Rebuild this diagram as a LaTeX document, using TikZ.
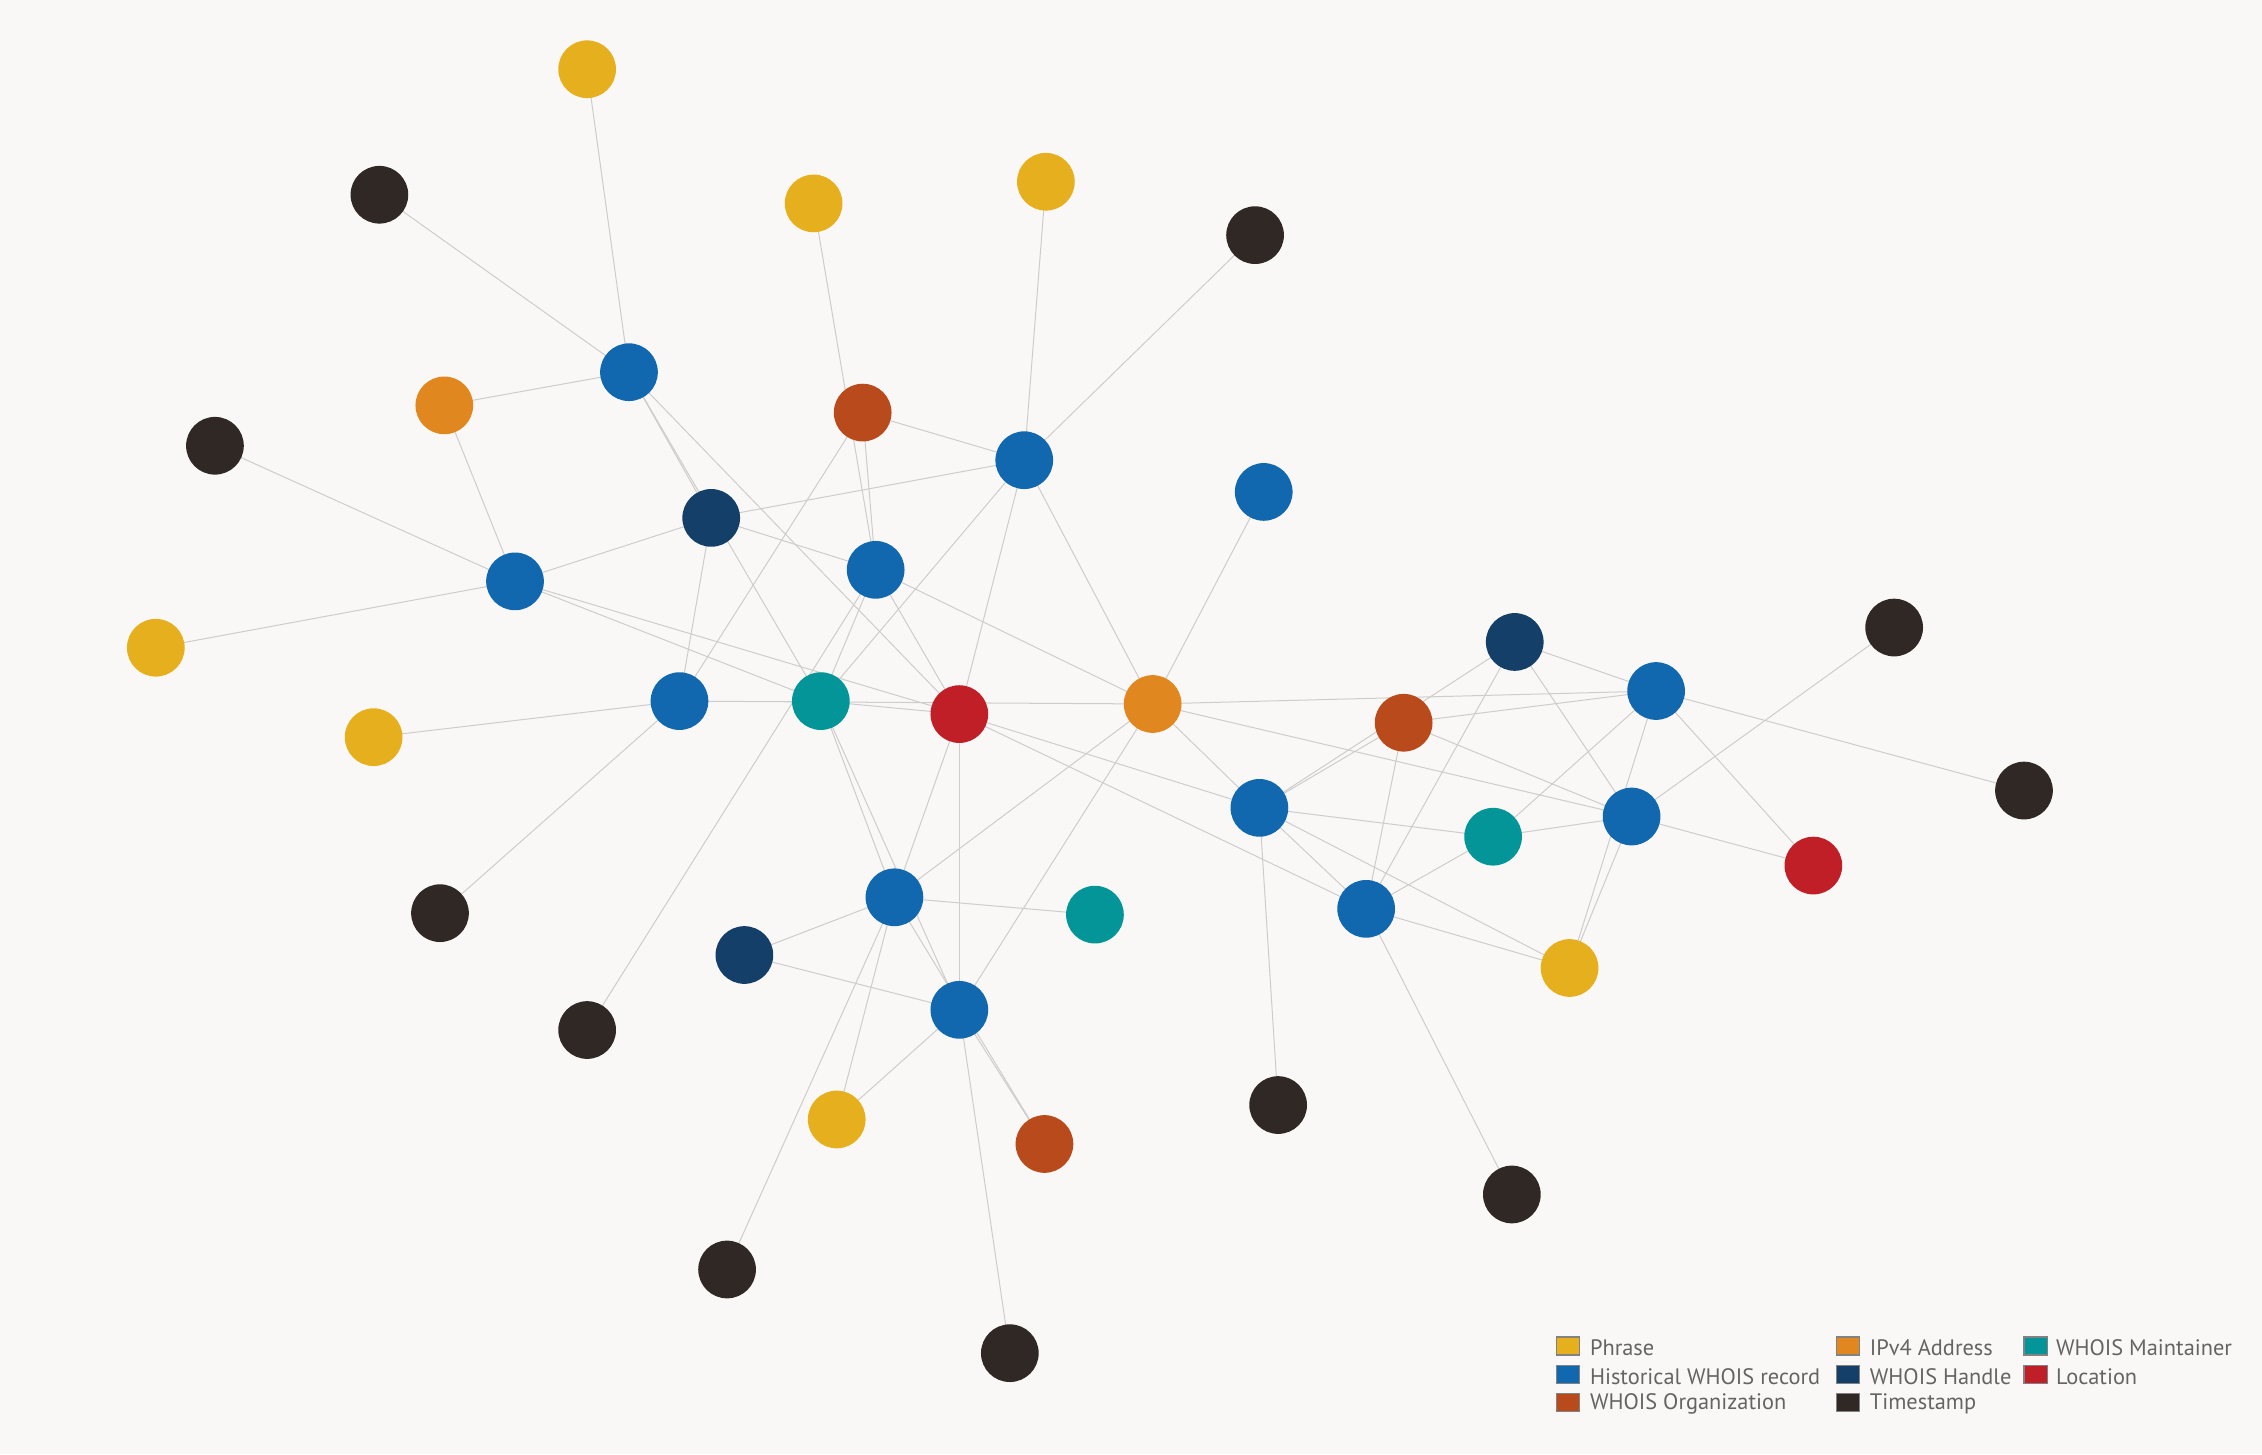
\documentclass[tikz,border=0pt]{standalone}
\usepackage{fontspec}
\setmainfont{PT Sans}
\definecolor{cPaper}{RGB}{249,248,246}
\definecolor{cLink}{RGB}{205,205,205}
\definecolor{cPhr}{RGB}{229,175,30}
\definecolor{cRec}{RGB}{18,104,175}
\definecolor{cOrg}{RGB}{184,74,28}
\definecolor{cIp}{RGB}{224,135,32}
\definecolor{cHdl}{RGB}{19,63,104}
\definecolor{cTs}{RGB}{47,40,37}
\definecolor{cMnt}{RGB}{3,149,151}
\definecolor{cLoc}{RGB}{193,31,40}
\definecolor{cKeyEdge}{RGB}{130,130,130}
\definecolor{cKeyText}{RGB}{100,100,100}
\pgfdeclarelayer{edgelayer}
\pgfsetlayers{edgelayer,main}
\begin{document}
\begin{tikzpicture}[x=1pt,y=-1pt,
  ent/.style={circle,minimum size=40pt,inner sep=0pt,draw=none},
  phr/.style={ent,fill=cPhr},
  rec/.style={ent,fill=cRec},
  org/.style={ent,fill=cOrg},
  ipv/.style={ent,fill=cIp},
  hdl/.style={ent,fill=cHdl},
  tsp/.style={ent,fill=cTs},
  mnt/.style={ent,fill=cMnt},
  loc/.style={ent,fill=cLoc},
  link/.style={draw=cLink,line width=0.7pt},
  keybox/.style={draw=cKeyEdge,line width=0.8pt,minimum width=16pt,minimum height=12.5pt,inner sep=0pt},
  keytext/.style={anchor=west,text=cKeyText,inner sep=0pt,font=\fontsize{15.5}{17}\selectfont}
]
\begin{pgfonlayer}{edgelayer}
\fill[cPaper] (0,0) rectangle (1568,1008);
\end{pgfonlayer}
\useasboundingbox (0,0) rectangle (1568,1008);

% Phrases
\node[phr] (Y1) at (407,48) {};
\node[phr] (Y2) at (564,141) {};
\node[phr] (Y3) at (725,126) {};
\node[phr] (Y4) at (108,449) {};
\node[phr] (Y5) at (259,511) {};
\node[phr] (Y6) at (1088,671) {};
\node[phr] (Y7) at (580,776) {};
% Timestamps
\node[tsp] (K1) at (263,135) {};
\node[tsp] (K2) at (870,163) {};
\node[tsp] (K3) at (149,309) {};
\node[tsp] (K4) at (1313,435) {};
\node[tsp] (K5) at (1403,548) {};
\node[tsp] (K6) at (305,633) {};
\node[tsp] (K7) at (407,714) {};
\node[tsp] (K8) at (886,766) {};
\node[tsp] (K9) at (1048,828) {};
\node[tsp] (K10) at (504,880) {};
\node[tsp] (K11) at (700,938) {};
% Historical WHOIS records
\node[rec] (B1) at (436,258) {};
\node[rec] (B2) at (710,319) {};
\node[rec] (B3) at (876,341) {};
\node[rec] (B4) at (357,403) {};
\node[rec] (B5) at (607,395) {};
\node[rec] (B6) at (471,486) {};
\node[rec] (B7) at (1148,479) {};
\node[rec] (B8) at (873,560) {};
\node[rec] (B9) at (1131,566) {};
\node[rec] (B10) at (620,622) {};
\node[rec] (B11) at (947,630) {};
\node[rec] (B12) at (665,700) {};
% IPv4
\node[ipv] (O1) at (308,281) {};
\node[ipv] (O2) at (799,488) {};
% Organizations
\node[org] (R1) at (598,286) {};
\node[org] (R2) at (973,501) {};
\node[org] (R3) at (724,793) {};
% Handles
\node[hdl] (H1) at (493,359) {};
\node[hdl] (H2) at (1050,445) {};
\node[hdl] (H3) at (516,662) {};
% Maintainers
\node[mnt] (T1) at (569,486) {};
\node[mnt] (T2) at (1035,580) {};
\node[mnt] (T3) at (759,634) {};
% Locations
\node[loc] (L1) at (665,495) {};
\node[loc] (L2) at (1257,600) {};

\begin{pgfonlayer}{edgelayer}
\foreach \a/\b in {Y1/B1,K1/B1,O1/B1,B1/H1,B1/T1,B1/L1,
  O1/B4,K3/B4,Y4/B4,B4/H1,B4/T1,B4/L1,
  Y2/B5,R1/B5,R1/B2,R1/B6,Y3/B2,K2/B2,H1/B2,B2/T1,B2/L1,B2/O2,
  H1/B5,H1/B6,B5/T1,B5/K7,B5/L1,B5/O2,B3/O2,
  Y5/B6,K6/B6,B6/T1,B6/O2,T1/L1,T1/B10,T1/B12,
  L1/B8,L1/B11,L1/B10,L1/B12,
  O2/B7,O2/B9,O2/B8,O2/B10,O2/B12,
  B8/R2,B8/H2,B8/T2,B8/B11,B8/Y6,B8/K8,
  R2/B7,R2/B9,R2/B11,H2/B7,H2/B11,H2/B9,
  T2/B9,T2/B7,T2/B11,B7/Y6,B9/Y6,B7/L2,B7/K5,B9/K4,B9/L2,
  B11/Y6,B11/K9,B10/H3,H3/B12,B10/T3,B10/R3,B10/Y7,B10/K10,
  B12/Y7,B12/R3,B12/K11}
  \draw[link] (\a.center) -- (\b.center);
\end{pgfonlayer}

% Legend
\node[keybox,fill=cPhr] (k1) at (1087,933) {};
\node[keytext] (t1) at (1102,934) {Phrase};
\node[keybox,fill=cRec] (k2) at (1087,953) {};
\node[keytext] (t2) at (1102,954) {Historical WHOIS record};
\node[keybox,fill=cOrg] (k3) at (1087,972) {};
\node[keytext] (t3) at (1102,973) {WHOIS Organization};
\node[keybox,fill=cIp] (k4) at (1281,933) {};
\node[keytext] (t4) at (1296,934) {IPv4 Address};
\node[keybox,fill=cHdl] (k5) at (1281,953) {};
\node[keytext] (t5) at (1296,954) {WHOIS Handle};
\node[keybox,fill=cTs] (k6) at (1281,972) {};
\node[keytext] (t6) at (1296,973) {Timestamp};
\node[keybox,fill=cMnt] (k7) at (1411,933) {};
\node[keytext] (t7) at (1425,934) {WHOIS Maintainer};
\node[keybox,fill=cLoc] (k8) at (1411,953) {};
\node[keytext] (t8) at (1425,954) {Location};
\end{tikzpicture}
\end{document}
